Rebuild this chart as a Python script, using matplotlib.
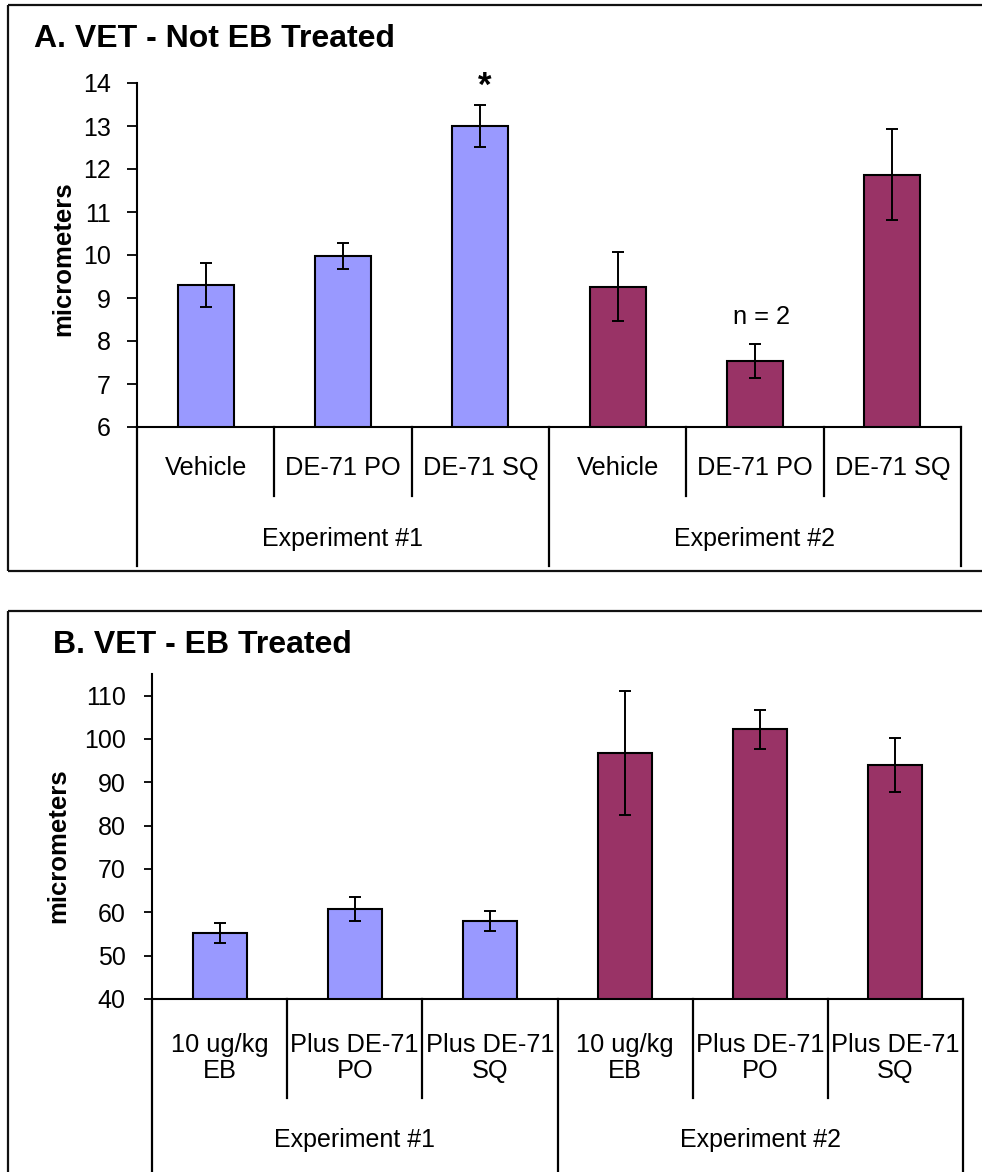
import matplotlib
matplotlib.use("Agg")
import matplotlib.pyplot as plt
from matplotlib.lines import Line2D
import matplotlib.transforms as mtransforms

plt.rcParams['font.family'] = ['Liberation Sans', 'DejaVu Sans']

# ---------------- data ----------------
groups = ['Experiment #1', 'Experiment #2']
a_labels = ['Vehicle', 'DE-71 PO', 'DE-71 SQ', 'Vehicle', 'DE-71 PO', 'DE-71 SQ']
a_means = [9.30, 9.97, 13.0, 9.26, 7.53, 11.87]
a_err = [0.52, 0.30, 0.49, 0.80, 0.39, 1.05]

b_labels = ['10 ug/kg\nEB', 'Plus DE-71\nPO', 'Plus DE-71\nSQ',
            '10 ug/kg\nEB', 'Plus DE-71\nPO', 'Plus DE-71\nSQ']
b_means = [55.2, 60.8, 58.0, 96.7, 102.2, 94.0]
b_err = [2.3, 2.8, 2.3, 14.3, 4.4, 6.2]

a_ticks = [6, 7, 8, 9, 10, 11, 12, 13, 14]
b_ticks = [40, 50, 60, 70, 80, 90, 100, 110]

c1 = '#9999FF'
c2 = '#993366'
bar_colors = [c1, c1, c1, c2, c2, c2]

W, H = 982, 1172
fig = plt.figure(figsize=(W / 100, H / 100), dpi=100)


def fx(px):
    return px / W


def fy(py):
    return 1 - py / H


def fig_line(x0, y0, x1, y1, lw=1.6, color='#111111'):
    fig.add_artist(Line2D([fx(x0), fx(x1)], [fy(y0), fy(y1)], lw=lw,
                          color=color, transform=fig.transFigure,
                          solid_capstyle='butt'))


def make_panel(left, right, top, bottom, ylim, ticks, labels, means, errs,
               bar_w, inner_bot, outer_bot, cat_y, grp_y, ticklen, tickpad,
               title, title_x, title_y, ylab_x, ylab_y):
    ax = fig.add_axes([fx(left), fy(bottom), fx(right) - fx(left),
                       fy(top) - fy(bottom)])
    x = list(range(len(means)))
    ax.bar(x, means, width=bar_w, color=bar_colors, edgecolor='black',
           linewidth=1.5, zorder=2)
    ax.errorbar(x, means, yerr=errs, fmt='none', ecolor='black',
                elinewidth=1.4, capsize=4.3, capthick=1.4, zorder=3)
    ax.set_xlim(-0.5, len(means) - 0.5)
    ax.set_ylim(*ylim)
    ax.set_yticks(ticks)
    ax.set_xticks([])
    for s in ['top', 'right']:
        ax.spines[s].set_visible(False)
    for s in ['left', 'bottom']:
        ax.spines[s].set_linewidth(1.5)
        ax.spines[s].set_color('black')
    ax.tick_params(axis='y', direction='out', length=ticklen, width=1.3,
                   pad=tickpad, labelsize=18)
    ax.patch.set_alpha(0)

    trans = mtransforms.blended_transform_factory(ax.transData, fig.transFigure)
    n = len(means)
    for i in range(n + 1):
        xb = i - 0.5
        yb = outer_bot if i % 3 == 0 else inner_bot
        fig.add_artist(Line2D([xb, xb], [fy(bottom), fy(yb)], lw=1.6,
                              color='black', transform=trans))
    for i, lab in enumerate(labels):
        fig.text(i, fy(cat_y), lab, transform=trans, ha='center',
                 va='center', fontsize=18.3, linespacing=1.1)
    for g, name in enumerate(groups):
        fig.text(3 * g + 1, fy(grp_y), name, transform=trans, ha='center',
                 va='center', fontsize=18)
    fig.text(fx(title_x), fy(title_y), title, ha='left', va='center',
             fontsize=23, fontweight='bold')
    fig.text(fx(ylab_x), fy(ylab_y), 'micrometers', rotation=90,
             ha='center', va='center', fontsize=18.5, fontweight='bold')
    return ax


# Panel A
axA = make_panel(137, 961, 83, 427, (6, 14), a_ticks, a_labels, a_means,
                 a_err, 0.41, 496, 566, 468, 539, 7.2, 11.5,
                 'A. VET - Not EB Treated', 34, 39, 63, 259)
axA.text(2.03, 13.93, '*', ha='center', va='center', fontsize=25,
         fontweight='bold')
axA.text(4.05, 8.55, 'n = 2', ha='center', va='center', fontsize=18.3)

# Panel B
axB = make_panel(152, 963, 674, 999, (40, 115), b_ticks, b_labels, b_means,
                 b_err, 0.40, 1098, 1172, 1058, 1140, 6, 13,
                 'B. VET - EB Treated', 53, 645, 58, 846)

# panel borders (open at right; panel B cut at bottom)
fig_line(8, 5, W, 5)
fig_line(8, 5, 8, 571)
fig_line(8, 571, W, 571)
fig_line(8, 611, W, 611)
fig_line(8, 611, 8, H)

fig.savefig('out.png', dpi=100)
